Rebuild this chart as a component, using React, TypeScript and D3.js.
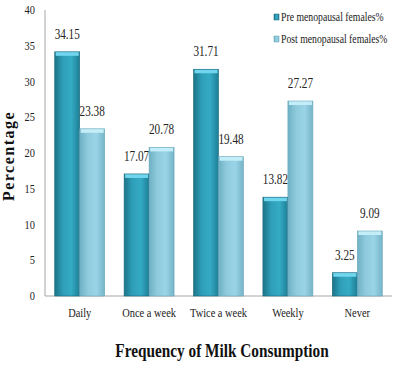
import React, { useEffect, useRef } from "react";
import * as d3 from "d3";

const categories = ["Daily", "Once a week", "Twice a week", "Weekly", "Never"];
const seriesNames = ["Pre menopausal females%", "Post menopausal females%"];
const preValues = [34.15, 17.07, 31.71, 13.82, 3.25];
const postValues = [23.38, 20.78, 19.48, 27.27, 9.09];
const yTicks = [0, 5, 10, 15, 20, 25, 30, 35, 40];

const W = 396;
const H = 365;
const FONT = "Liberation Serif, Times New Roman, serif";

export default function App() {
  const ref = useRef<SVGSVGElement | null>(null);

  useEffect(() => {
    if (!ref.current) return;
    const svg = d3.select(ref.current);
    svg.selectAll("*").remove();

    const left = 45, right = 392, top = 10, bottom = 296;
    const x = d3.scaleBand().domain(categories).range([left, right]).paddingInner(0.28).paddingOuter(0.14);
    const sub = d3.scaleBand().domain(["0", "1"]).range([0, x.bandwidth()]);
    const y = d3.scaleLinear().domain([0, 40]).range([bottom, top]);

    const defs = svg.append("defs");
    const grads = [
      { id: "g0", stops: ["#1b7488", "#2f9fb9", "#35aac4", "#1d7f96"], cap: "#6fd6ee", edge: "#17667a" },
      { id: "g1", stops: ["#6fb0c4", "#8fcbdd", "#9ad4e6", "#76b4c8"], cap: "#c3eef8", edge: "#6aa6b9" },
    ];
    grads.forEach((g) => {
      const lg = defs.append("linearGradient").attr("id", g.id).attr("x1", 0).attr("x2", 1).attr("y1", 0).attr("y2", 0);
      g.stops.forEach((c, i) => lg.append("stop").attr("offset", `${(i / (g.stops.length - 1)) * 100}%`).attr("stop-color", c));
    });

    const label = (tx: number, ty: number, s: string, size: number, anchor = "middle", sx = 0.85) =>
      svg.append("text")
        .attr("transform", `translate(${tx},${ty}) scale(${sx},1)`)
        .attr("text-anchor", anchor)
        .style("font-family", FONT)
        .style("font-size", `${size}px`)
        .attr("fill", "#222")
        .text(s);

    // axes lines
    svg.append("line").attr("x1", left).attr("x2", left).attr("y1", top).attr("y2", bottom).attr("stroke", "#a6a6a6");
    svg.append("line").attr("x1", left).attr("x2", right).attr("y1", bottom).attr("y2", bottom).attr("stroke", "#a6a6a6");

    yTicks.forEach((t) => label(left - 10, y(t) + 4, String(t), 13, "end", 0.8));

    categories.forEach((c) => label(x(c)! + x.bandwidth() / 2, 317, c, 13, "middle", 0.8));

    const series = [preValues, postValues];
    series.forEach((vals, si) => {
      const g = grads[si];
      vals.forEach((v, i) => {
        const bx = x(categories[i])! + sub(String(si))!;
        const bw = sub.bandwidth();
        const by = y(v);
        const bh = bottom - by;
        svg.append("rect").attr("x", bx).attr("y", by).attr("width", bw).attr("height", bh).attr("fill", `url(#${g.id})`);
        svg.append("rect").attr("x", bx + 1).attr("y", by).attr("width", bw - 2).attr("height", 4).attr("fill", g.cap);
        svg.append("rect").attr("x", bx).attr("y", by).attr("width", bw).attr("height", bh)
          .attr("fill", "none").attr("stroke", g.edge).attr("stroke-width", 0.6);
        label(bx + bw / 2, by - 13, v.toFixed(2), 14, "middle", 0.8);
      });
    });

    // legend
    seriesNames.forEach((n, i) => {
      const ly = 17 + i * 22;
      svg.append("rect").attr("x", 274).attr("y", ly - 3).attr("width", 5).attr("height", 6)
        .attr("fill", `url(#${grads[i].id})`).attr("stroke", grads[i].edge).attr("stroke-width", 0.5);
      label(281, ly + 4, n, 12.5, "start", 0.78);
    });

    label(222, 357, "Frequency of Milk Consumption", 18, "middle", 0.85)
      .style("font-weight", "bold").attr("fill", "#111");

    svg.append("text")
      .attr("transform", `translate(${14},${156}) rotate(-90)`)
      .attr("text-anchor", "middle")
      .style("font-family", FONT)
      .style("font-size", "16px")
      .style("font-weight", "bold")
      .style("letter-spacing", "1.5px")
      .attr("fill", "#111")
      .text("Percentage");
  }, []);

  return (
    <svg ref={ref} width={W} height={H} style={{ position: "absolute", left: 0, top: 0, background: "#fff" }} />
  );
}
